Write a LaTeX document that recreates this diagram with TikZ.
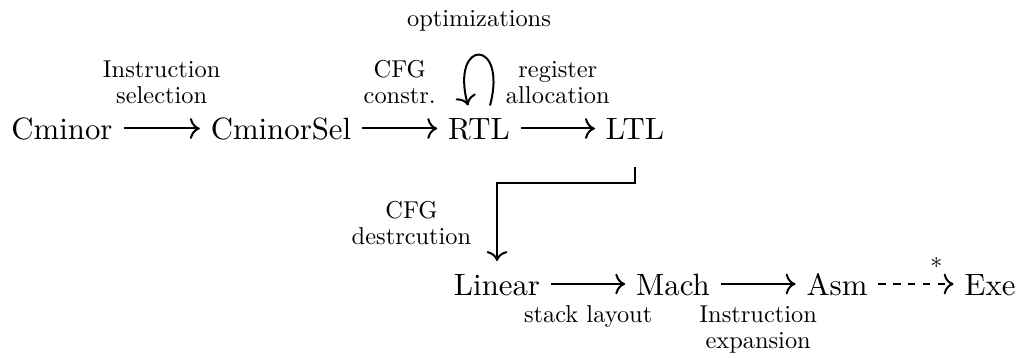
\documentclass[tikz,border=0pt]{standalone}
\usepackage{fontspec}
\setmainfont{lmroman10-regular.otf}
\usetikzlibrary{arrows.meta}
\begin{document}
\begin{tikzpicture}[x=0.5pt,y=-0.5pt,
  stage/.style={font=\fontsize{15.4}{18}\selectfont, text height=14pt,
    text depth=3pt, inner xsep=5.5pt, inner ysep=3pt, outer sep=0pt, anchor=base},
  lab/.style={font=\fontsize{12.2}{13}\selectfont, align=center,
    inner sep=0pt, outer sep=0pt},
  pass/.style={-{To[scale=1.3]}, line width=1pt},
  proofpass/.style={pass, dash pattern=on 3.7pt off 3.7pt}]
  \useasboundingbox (0,0) rectangle (1019,358);

  % front-end stages
  \node[stage] (cminor) at (62,139.5)  {Cminor};
  \node[stage] (sel)    at (281,139.5) {CminorSel};
  \node[stage] (rtl)    at (479,139.5) {RTL};
  \node[stage] (ltl)    at (635,139.5) {LTL};

  % back-end stages
  \node[stage] (linear) at (497,295) {Linear};
  \node[stage] (mach)   at (673,295) {Mach};
  \node[stage] (asm)    at (837,295) {Asm};
  \node[stage] (exe)    at (990,295) {Exe};

  % passes of the first row
  \draw[pass] (cminor) -- node[lab, above=12.5pt] {Instruction\\selection} (sel);
  \draw[pass] (sel) -- node[lab, above=12.5pt] {CFG\\constr.} (rtl);
  \draw[pass] (rtl) -- node[lab, above=12.5pt] {register\\allocation} (ltl);

  % optimisation loop on RTL
  \draw[pass] ([xshift=5.5pt]rtl.north) .. controls +(75:35pt) and +(105:35pt) .. ([xshift=-5.5pt]rtl.north);
  \node[lab, anchor=base] (opt) at (479,26.5) {optimizations};

  % from LTL down to Linear
  \draw[pass] ([yshift=-7.75pt]ltl.south) -- ++(0pt,-8pt) -| (linear.north);
  \node[lab, anchor=south] (destr) at (411.5,245) {CFG\\destrcution};

  % passes of the second row
  \draw[pass] (linear) -- node[lab, below=11pt] {stack layout} (mach);
  \draw[pass] (mach) -- node[lab, below=11pt] {Instruction\\expansion} (asm);
  \draw[proofpass] (asm) -- node[lab, pos=0.77, yshift=10.5pt] {$*$} (exe);
\end{tikzpicture}
\end{document}
